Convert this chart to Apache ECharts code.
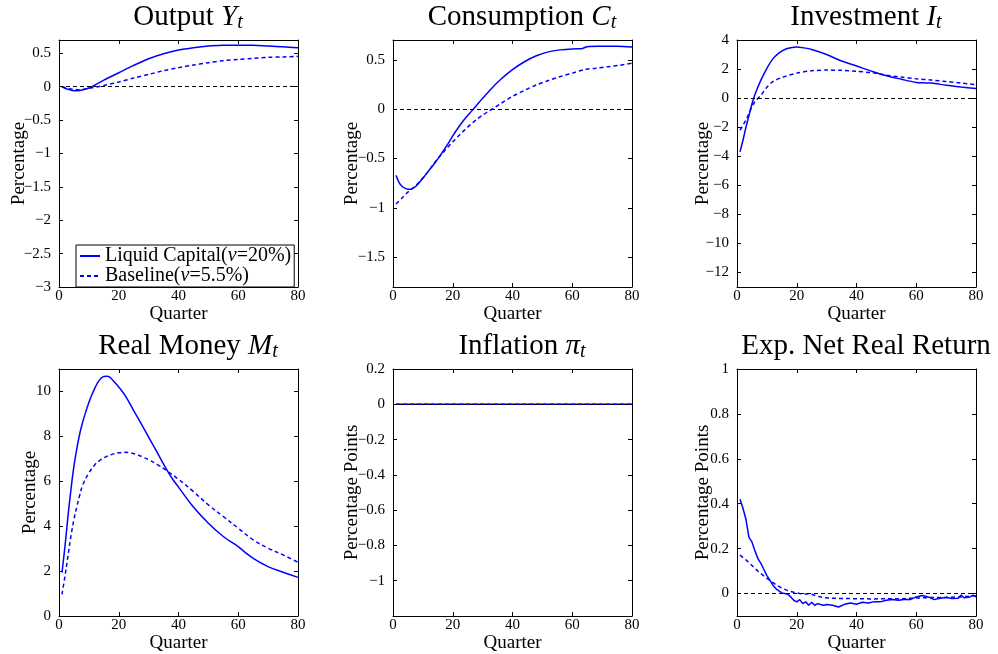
<!DOCTYPE html>
<html><head><meta charset="utf-8">
<script src="https://cdn.jsdelivr.net/npm/echarts@6/dist/echarts.min.js"></script>
<style>html,body{margin:0;padding:0;background:#fff}#c{width:998px;height:654px}</style>
</head><body><div id="c"></div>
<script>
// ---------------- DATA ----------------
const xTicks = [0, 20, 40, 60, 80];
const seriesNames = ['Liquid Capital(ν=20%)', 'Baseline(ν=5.5%)'];
const panelTitles = [['Output ', 'Y', 't'], ['Consumption ', 'C', 't'], ['Investment ', 'I', 't'],
                     ['Real Money ', 'M', 't'], ['Inflation ', 'π', 't'], ['Exp. Net Real Return', '', '']];
const yNames = ['Percentage', 'Percentage', 'Percentage', 'Percentage', 'Percentage Points', 'Percentage Points'];
const xName = 'Quarter';

// Output Y_t
const outLiqQ = [1,3,5,7,9,11,13,15,20,25,30,35,40,45,50,55,60,65,70,75,80];
const outLiqV = [0,-0.04,-0.06,-0.055,-0.035,0,0.05,0.10,0.21,0.32,0.42,0.495,0.55,0.585,0.61,0.62,0.622,0.62,0.61,0.60,0.585];
const outBasQ = [1,3,5,7,10,13,15,20,25,30,35,40,45,50,55,60,65,70,75,80];
const outBasV = [0,-0.025,-0.04,-0.045,-0.025,0,0.02,0.07,0.13,0.185,0.24,0.285,0.325,0.36,0.39,0.41,0.425,0.44,0.447,0.455];
const outTicks = [-3,-2.5,-2,-1.5,-1,-0.5,0,0.5];

// Consumption C_t
const conLiqQ = [1,2,3,4,5,6,7,8,10,12,14,16,18,20,22,24,26,28,30,33,36,40,44,48,52,56,60,63,65,70,75,80];
const conLiqV = [-0.67,-0.74,-0.78,-0.80,-0.81,-0.81,-0.795,-0.77,-0.70,-0.62,-0.545,-0.46,-0.37,-0.27,-0.18,-0.10,-0.03,0.04,0.11,0.21,0.30,0.40,0.48,0.54,0.58,0.60,0.61,0.612,0.632,0.636,0.638,0.628];
const conBasQ = [1,3,5,7,9,11,13,15,17,20,22,24,26,28,30,32,34,36,40,44,48,52,56,60,64,68,72,76,80];
const conBasV = [-0.96,-0.90,-0.84,-0.79,-0.73,-0.66,-0.58,-0.50,-0.43,-0.33,-0.27,-0.21,-0.155,-0.105,-0.06,-0.02,0.015,0.055,0.13,0.19,0.245,0.29,0.33,0.365,0.40,0.415,0.43,0.445,0.465];
const conTicks = [-1.5,-1,-0.5,0,0.5];

// Investment I_t
const invLiqQ = [1,2,3,4,5,6,8,10,12,14,16,18,20,22,25,30,35,40,45,50,55,60,62,65,70,75,80];
const invLiqV = [-3.70,-2.9,-2.0,-1.2,-0.4,0.25,1.24,2.05,2.7,3.1,3.35,3.47,3.52,3.47,3.35,3.0,2.55,2.21,1.86,1.54,1.30,1.08,1.05,1.04,0.88,0.76,0.66];
const invBasQ = [1,2,3,4,5,6,8,10,12,15,20,25,30,35,40,45,50,55,60,65,70,75,80];
const invBasV = [-2.2,-1.86,-1.5,-1.06,-0.6,-0.25,0.2,0.74,1.13,1.42,1.72,1.88,1.93,1.91,1.84,1.75,1.58,1.45,1.33,1.24,1.14,1.04,0.92];
const invTicks = [-12,-10,-8,-6,-4,-2,0,2,4];

// Real Money M_t
const monLiqQ = [1,2,3,4,5,6,7,8,9,10,11,12,13,14,15,16,17,18,20,22,25,28,30,33,35,38,40,45,50,55,60,62,65,70,75,80];
const monLiqV = [1.93,3.1,4.44,5.63,6.67,7.48,8.15,8.67,9.11,9.51,9.85,10.15,10.4,10.58,10.67,10.68,10.64,10.5,10.2,9.85,9.15,8.45,7.97,7.25,6.76,6.1,5.74,4.85,4.13,3.54,3.09,2.87,2.57,2.2,1.95,1.72];
const monBasQ = [1,2,3,4,5,6,7,8,10,12,14,16,18,20,22,24,26,28,30,33,36,40,45,50,55,60,65,70,75,80];
const monBasV = [0.96,1.78,2.67,3.56,4.3,4.89,5.41,5.85,6.37,6.74,6.96,7.11,7.21,7.27,7.29,7.26,7.19,7.08,6.96,6.74,6.47,6.09,5.54,4.95,4.43,3.91,3.39,3.02,2.72,2.39];
const monTicks = [0,2,4,6,8,10];

// Inflation pi_t
const infLiqQ = [1,80];
const infLiqV = [0,0];
const infBasQ = [1,80];
const infBasV = [0,0];
const infTicks = [-1,-0.8,-0.6,-0.4,-0.2,0,0.2];

// Exp. Net Real Return
const retLiqQ = [1,2,3,4,5,6,7,8,9,10,11,12,13,14,15,16,17,18,19,20,21,22,23,24,25,26,27,28,29,30,32,34,36,38,40,42,44,46,48,50,52,54,56,58,60,62,64,66,68,70,72,74,75,76,78,79,80];
const retLiqV = [0.42,0.38,0.33,0.25,0.23,0.19,0.156,0.134,0.107,0.08,0.06,0.037,0.022,0.012,0.003,0,-0.003,-0.015,-0.03,-0.037,-0.027,-0.045,-0.037,-0.052,-0.039,-0.052,-0.045,-0.049,-0.052,-0.049,-0.052,-0.06,-0.048,-0.042,-0.048,-0.039,-0.042,-0.036,-0.037,-0.030,-0.027,-0.030,-0.027,-0.027,-0.015,-0.009,-0.015,-0.027,-0.021,-0.018,-0.022,-0.021,-0.007,-0.019,-0.015,-0.007,-0.015];
const retBasQ = [1,3,5,7,9,11,13,15,17,19,21,23,25,27,29,32,36,40,45,50,55,60,65,70,75,80];
const retBasV = [0.171,0.15,0.125,0.10,0.078,0.058,0.04,0.024,0.013,0.006,0,-0.002,-0.003,-0.012,-0.018,-0.021,-0.022,-0.023,-0.024,-0.023,-0.023,-0.02,-0.018,-0.017,-0.015,-0.01];
const retTicks = [0,0.2,0.4,0.6,0.8,1];

// ---------------- LAYOUT ----------------
const panels = [
  {liq:[outLiqQ,outLiqV], bas:[outBasQ,outBasV], ticks:outTicks, min:-3, max:0.7, zero:true, smooth:0.3},
  {liq:[conLiqQ,conLiqV], bas:[conBasQ,conBasV], ticks:conTicks, min:-1.8, max:0.7, zero:true, smooth:0.3},
  {liq:[invLiqQ,invLiqV], bas:[invBasQ,invBasV], ticks:invTicks, min:-13, max:4, zero:true, smooth:0.3},
  {liq:[monLiqQ,monLiqV], bas:[monBasQ,monBasV], ticks:monTicks, min:0, max:11, zero:false, smooth:0.4},
  {liq:[infLiqQ,infLiqV], bas:[infBasQ,infBasV], ticks:infTicks, min:-1.2, max:0.2, zero:true, smooth:false},
  {liq:[retLiqQ,retLiqV], bas:[retBasQ,retBasV], ticks:retTicks, min:-0.1, max:1, zero:true, smooth:false}
];
const boxes = [[59,40],[393,40],[737,40],[59,369],[393,369],[737,369]];
const W = 239, H = 247;
const yNameGap = [30,31,24,19,31,24];
const titlePos = [[188,17],[522,17],[866,17],[188,346],[522,346],[866,346]];

const FONT = 'Liberation Serif';
const BLUE = '#0000ff';

function fmt(v){
  const a = Math.abs(v);
  const s = String(Number(a.toFixed(3)));
  return (v < 0 ? '\u2212' : '') + s;
}

const grid = [], xAxis = [], yAxis = [], series = [], graphic = [];
panels.forEach((p, i) => {
  const [l, t] = boxes[i];
  grid.push({left:l, top:t, width:W, height:H, containLabel:false});
  const common = {
    axisLine:{show:true, onZero:false, lineStyle:{color:'#000', width:1}},
    splitLine:{show:false},
    axisTick:{show:true, inside:true, length:4, lineStyle:{color:'#000', width:1}}
  };
  xAxis.push(Object.assign({}, common, {
    type:'value', gridIndex:i, min:0, max:80, position:'bottom',
    axisTick:Object.assign({}, common.axisTick, {customValues:xTicks}),
    axisLabel:{show:true, customValues:xTicks, formatter:fmt, margin:2, color:'#000', fontFamily:FONT, fontSize:15},
    name:xName, nameLocation:'middle', nameGap:18, nameMoveOverlap:false,
    nameTextStyle:{color:'#000', fontFamily:FONT, fontSize:19}
  }));
  xAxis.push(Object.assign({}, common, {
    type:'value', gridIndex:i, min:0, max:80, position:'top',
    axisTick:Object.assign({}, common.axisTick, {customValues:xTicks}),
    axisLabel:{show:false}
  }));
  yAxis.push(Object.assign({}, common, {
    type:'value', gridIndex:i, min:p.min, max:p.max, position:'left',
    axisTick:Object.assign({}, common.axisTick, {customValues:p.ticks}),
    axisLabel:{show:true, customValues:p.ticks, formatter:fmt, margin:8, color:'#000', fontFamily:FONT, fontSize:15},
    name:yNames[i], nameLocation:'middle', nameGap:yNameGap[i], nameMoveOverlap:false,
    nameTextStyle:{color:'#000', fontFamily:FONT, fontSize:19}
  }));
  yAxis.push(Object.assign({}, common, {
    type:'value', gridIndex:i, min:p.min, max:p.max, position:'right',
    axisTick:Object.assign({}, common.axisTick, {customValues:p.ticks}),
    axisLabel:{show:false}
  }));
  const bas = {
    type:'line', name:seriesNames[1], xAxisIndex:2*i, yAxisIndex:2*i,
    data:p.bas[0].map((q,k)=>[q, p.bas[1][k]]),
    symbol:'none', smooth:p.smooth, z:3,
    lineStyle:{color:BLUE, width:1.5, type:[4,3]}, itemStyle:{color:BLUE}
  };
  const liq = {
    type:'line', name:seriesNames[0], xAxisIndex:2*i, yAxisIndex:2*i,
    data:p.liq[0].map((q,k)=>[q, p.liq[1][k]]),
    symbol:'none', smooth:p.smooth, z:4,
    lineStyle:{color:BLUE, width:1.5, type:'solid'}, itemStyle:{color:BLUE}
  };
  if (p.zero) {
    liq.markLine = {silent:true, symbol:['none','none'], label:{show:false},
      lineStyle:{color:'#000', type:[4,3], width:1}, data:[{yAxis:0}], animation:false};
  }
  series.push(liq, bas);
  const tt = panelTitles[i];
  let text = '{n|' + tt[0] + '}';
  if (tt[1]) text += '{v|' + tt[1] + '}{s|' + tt[2] + '}';
  graphic.push({
    type:'text', x:titlePos[i][0], y:titlePos[i][1],
    style:{
      text:text, align:'center', verticalAlign:'middle', fill:'#000',
      rich:{
        n:{fontFamily:FONT, fontSize:29, lineHeight:32, fill:'#000'},
        v:{fontFamily:FONT, fontSize:29, lineHeight:32, fontStyle:'italic', fill:'#000'},
        s:{fontFamily:FONT, fontSize:20, lineHeight:18, fontStyle:'italic', verticalAlign:'bottom', fill:'#000'}
      }
    }
  });
});

const chart = echarts.init(document.getElementById('c'), null, {renderer:'canvas'});
chart.setOption({
  animation:false,
  backgroundColor:'#fff',
  grid, xAxis, yAxis, series, graphic,
  legend:{
    data:seriesNames, left:76, top:245, orient:'vertical',
    backgroundColor:'#fff', borderColor:'#000', borderWidth:1, borderRadius:0,
    padding:[1,3,1,3], itemGap:0, itemWidth:20, itemHeight:16,
    itemStyle:{color:'rgba(0,0,0,0)', borderColor:'rgba(0,0,0,0)', borderWidth:0},
    textStyle:{fontFamily:FONT, fontSize:20, color:'#000', lineHeight:18,
      rich:{i:{fontFamily:FONT, fontSize:20, fontStyle:'italic', color:'#000'}}},
    formatter:function(name){ return name.replace('ν', '{i|ν}'); },
    selectedMode:false
  }
});
</script></body></html>
